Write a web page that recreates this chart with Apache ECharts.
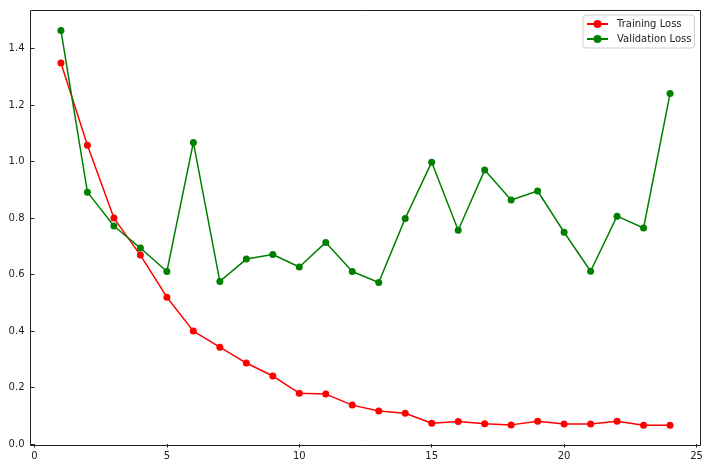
<!DOCTYPE html>
<html>
<head>
<meta charset="utf-8">
<script src="https://cdn.jsdelivr.net/npm/echarts@6/dist/echarts.min.js"></script>
<style>html,body{margin:0;padding:0;background:#fff;}#c{width:710px;height:469px;}</style>
</head>
<body>
<div id="c"></div>
<script>
const epochs = [1,2,3,4,5,6,7,8,9,10,11,12,13,14,15,16,17,18,19,20,21,22,23,24];
const trainingLoss = [1.349,1.058,0.800,0.669,0.520,0.400,0.343,0.287,0.241,0.180,0.177,0.138,0.117,0.109,0.074,0.080,0.072,0.068,0.081,0.071,0.071,0.081,0.067,0.067];
const validationLoss = [1.464,0.892,0.772,0.694,0.611,1.068,0.576,0.655,0.671,0.627,0.714,0.611,0.572,0.799,0.998,0.757,0.970,0.864,0.896,0.750,0.612,0.807,0.765,1.241];
const xTicks = [0,5,10,15,20,25];
const yTicks = [0,0.2,0.4,0.6,0.8,1.0,1.2,1.4];

const chart = echarts.init(document.getElementById('c'));
const font = 'DejaVu Sans';
chart.setOption({
  animation: false,
  backgroundColor: '#fff',
  grid: {left: 30.5, right: 9.5, top: 10.5, bottom: 23.5, show: true, borderColor: '#222', borderWidth: 1, backgroundColor: 'transparent'},
  legend: {
    orient: 'vertical', left: 583, top: 15,
    padding: [4, 3, 4, 3], itemWidth: 21, itemHeight: 10, itemGap: 5,
    borderColor: '#d0d0d0', borderWidth: 1, borderRadius: 3,
    textStyle: {fontFamily: font, fontSize: 10, color: '#222', lineHeight: 10, padding: [0,0,0,4]},
    data: ['Training Loss', 'Validation Loss']
  },
  xAxis: {
    type: 'value', min: -0.15, max: 25.15,
    axisLine: {show: false},
    axisTick: {show: true, length: 3.5, customValues: xTicks, lineStyle: {color: '#222'}},
    axisLabel: {customValues: xTicks, fontFamily: font, fontSize: 10, color: '#222', margin: 6},
    splitLine: {show: false}
  },
  yAxis: {
    type: 'value', min: -0.005, max: 1.535,
    axisLine: {show: false},
    axisTick: {show: true, length: 3.5, customValues: yTicks, lineStyle: {color: '#222'}},
    axisLabel: {customValues: yTicks, fontFamily: font, fontSize: 10, color: '#222', margin: 6, formatter: v => v.toFixed(1)},
    splitLine: {show: false}
  },
  series: [
    {name: 'Training Loss', type: 'line', data: epochs.map((e,i)=>[e, trainingLoss[i]]),
     symbol: 'circle', symbolSize: 7, color: '#ff0000', lineStyle: {width: 1.5, color: '#ff0000'}, itemStyle: {color: '#ff0000'}},
    {name: 'Validation Loss', type: 'line', data: epochs.map((e,i)=>[e, validationLoss[i]]),
     symbol: 'circle', symbolSize: 7, color: '#008000', lineStyle: {width: 1.5, color: '#008000'}, itemStyle: {color: '#008000'}}
  ]
});
</script>
</body>
</html>
